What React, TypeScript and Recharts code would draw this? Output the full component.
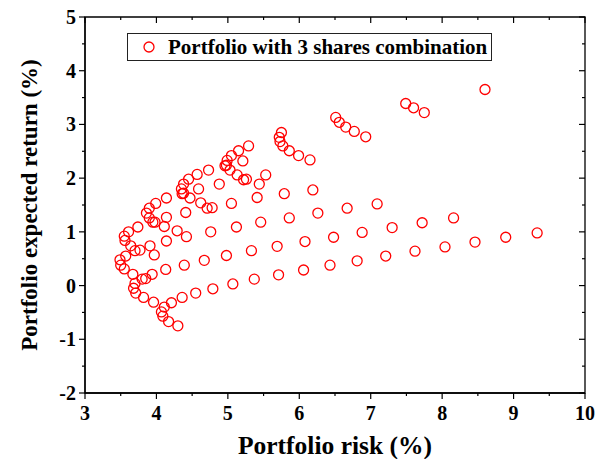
import React from 'react';
import { ScatterChart, Scatter, XAxis, YAxis, Legend, Label, ReferenceArea } from 'recharts';

// each row holds the portfolios with a fixed weight of the first share
// values are [risk %, expected return %]
const weightA0: [number, number][] = [
  [4.30, -0.75], [4.17, -0.67], [4.09, -0.57], [4.07, -0.49], [4.11, -0.40], [4.21, -0.32],
  [4.36, -0.22], [4.55, -0.14], [4.79, -0.06], [5.07, 0.03], [5.37, 0.12], [5.71, 0.20],
  [6.06, 0.29], [6.43, 0.38], [6.81, 0.46], [7.21, 0.55], [7.62, 0.64], [8.04, 0.72],
  [8.46, 0.81], [8.89, 0.90], [9.33, 0.98],
];
const weightA1: [number, number][] = [
  [3.96, -0.31], [3.82, -0.22], [3.71, -0.14], [3.68, -0.05], [3.70, 0.04], [3.80, 0.12],
  [3.94, 0.21], [4.13, 0.30], [4.39, 0.38], [4.67, 0.47], [4.98, 0.56], [5.33, 0.65],
  [5.69, 0.73], [6.08, 0.82], [6.48, 0.90], [6.88, 0.99], [7.30, 1.08], [7.72, 1.17],
  [8.16, 1.26],
];
const weightA2: [number, number][] = [
  [3.85, 0.13], [3.67, 0.21], [3.55, 0.31], [3.50, 0.38], [3.49, 0.48], [3.57, 0.55],
  [3.70, 0.65], [3.91, 0.74], [4.14, 0.83], [4.42, 0.91], [4.76, 1.00], [5.12, 1.09],
  [5.46, 1.18], [5.86, 1.26], [6.26, 1.35], [6.67, 1.44], [7.09, 1.52],
];
const weightA3: [number, number][] = [
  [3.97, 0.57], [3.77, 0.66], [3.64, 0.74], [3.56, 0.84], [3.55, 0.92], [3.61, 1.00],
  [3.74, 1.09], [3.95, 1.18], [4.14, 1.27], [4.41, 1.36], [4.71, 1.44], [5.05, 1.53],
  [5.41, 1.64], [5.79, 1.71], [6.19, 1.78],
];
const weightA4: [number, number][] = [
  [4.29, 1.02], [4.11, 1.10], [3.98, 1.18], [3.90, 1.26], [3.86, 1.35], [3.90, 1.44],
  [3.99, 1.53], [4.14, 1.63], [4.36, 1.71], [4.59, 1.80], [4.88, 1.89], [5.22, 1.97],
  [5.53, 2.06],
];
const weightA5: [number, number][] = [
  [4.78, 1.45], [4.62, 1.54], [4.47, 1.63], [4.38, 1.72], [4.35, 1.80], [4.38, 1.89],
  [4.45, 1.98], [4.57, 2.07], [4.73, 2.15], [4.96, 2.23], [5.21, 2.32],
];
const weightA6: [number, number][] = [
  [5.44, 1.89], [5.26, 1.98], [5.13, 2.06], [5.03, 2.15], [4.98, 2.24], [4.99, 2.33],
  [5.05, 2.42], [5.15, 2.51], [5.29, 2.60],
];
const weightA7: [number, number][] = [
  [6.15, 2.34], [5.99, 2.42], [5.86, 2.51], [5.77, 2.60], [5.73, 2.68], [5.72, 2.76],
  [5.75, 2.85],
];
const weightA8: [number, number][] = [
  [6.93, 2.77], [6.77, 2.87], [6.65, 2.95], [6.56, 3.04], [6.51, 3.13],
];
const weightA9: [number, number][] = [
  [7.75, 3.22], [7.60, 3.31], [7.49, 3.39],
];
const weightA10: [number, number][] = [
  [8.60, 3.65],
];

const riskTicks = [3, 3.5, 4, 4.5, 5, 5.5, 6, 6.5, 7, 7.5, 8, 8.5, 9, 9.5, 10];
const returnTicks = [-2, -1.5, -1, -0.5, 0, 0.5, 1, 1.5, 2, 2.5, 3, 3.5, 4, 4.5, 5];

const legendLabel = 'Portfolio with 3 shares combination';
const xTitle = 'Portfolio risk (%)';
const yTitle = 'Portfolio expected return (%)';

const portfolios = [
  weightA0, weightA1, weightA2, weightA3, weightA4, weightA5,
  weightA6, weightA7, weightA8, weightA9, weightA10,
].flat().map(([risk, ret]) => ({ risk, ret }));

const WIDTH = 605;
const HEIGHT = 459;
const MARGIN = { top: 17, right: 20, bottom: 0, left: 0 };
const X_AXIS_H = 66;
const Y_AXIS_W = 85;
const PLOT_W = WIDTH - MARGIN.left - MARGIN.right - Y_AXIS_W;
const PLOT_H = HEIGHT - MARGIN.top - MARGIN.bottom - X_AXIS_H;

const FONT = "'Liberation Serif', 'Times New Roman', serif";
const RED = '#ff0000';
const isMajor = (v: number) => Number.isInteger(v);

// bottom ticks point out, the mirrored ones on the top edge point in
const BottomTick = ({ x, y, payload }: any) => {
  const m = isMajor(payload.value);
  const len = m ? 6 : 3;
  const top = y - PLOT_H;
  return (
    <g>
      <line x1={x} y1={y} x2={x} y2={y + len} stroke="#000" strokeWidth={1.2} />
      <line x1={x} y1={top} x2={x} y2={top + len} stroke="#000" strokeWidth={1.2} />
      {m && (
        <text x={x} y={y + 27} textAnchor="middle" style={{ fontFamily: FONT, fontWeight: 700, fontSize: 20 }} fill="#000">
          {payload.value}
        </text>
      )}
    </g>
  );
};

const LeftTick = ({ x, y, payload }: any) => {
  const m = isMajor(payload.value);
  const len = m ? 6 : 3;
  const right = x + PLOT_W;
  return (
    <g>
      <line x1={x} y1={y} x2={x - len} y2={y} stroke="#000" strokeWidth={1.2} />
      <line x1={right} y1={y} x2={right - len} y2={y} stroke="#000" strokeWidth={1.2} />
      {m && (
        <text x={x - 9} y={y + 7} textAnchor="end" style={{ fontFamily: FONT, fontWeight: 700, fontSize: 20 }} fill="#000">
          {payload.value}
        </text>
      )}
    </g>
  );
};

const Ring = ({ cx, cy }: any) => (
  <circle cx={cx} cy={cy} r={5} fill="none" stroke={RED} strokeWidth={1.3} />
);

const XTitle = ({ viewBox }: any) => (
  <text
    x={viewBox.x + viewBox.width / 2}
    y={viewBox.y + 61}
    textAnchor="middle"
    style={{ fontFamily: FONT, fontWeight: 700, fontSize: 25.5 }}
    fill="#000"
  >
    {xTitle}
  </text>
);

const YTitle = ({ viewBox }: any) => {
  const cx = 37;
  const cy = viewBox.y + viewBox.height / 2;
  return (
    <text
      x={cx}
      y={cy}
      transform={`rotate(-90 ${cx} ${cy})`}
      textAnchor="middle"
      style={{ fontFamily: FONT, fontWeight: 700, fontSize: 23 }}
      fill="#000"
    >
      {yTitle}
    </text>
  );
};

const LegendBox = () => (
  <div
    style={{
      boxSizing: 'border-box',
      width: 365,
      height: 28,
      border: '1px solid #222',
      background: '#fff',
      display: 'flex',
      alignItems: 'center',
      fontFamily: FONT,
      fontWeight: 700,
      fontSize: 21,
      lineHeight: '26px',
      color: '#000',
      whiteSpace: 'nowrap',
    }}
  >
    <svg width={40} height={20} style={{ flex: 'none' }}>
      <circle cx={21} cy={10} r={5} fill="none" stroke={RED} strokeWidth={1.3} />
    </svg>
    <span>{legendLabel}</span>
  </div>
);

export default function App() {
  return (
    <div style={{ position: 'absolute', left: 0, top: 0, width: WIDTH, height: HEIGHT, background: '#fff' }}>
      <ScatterChart width={WIDTH} height={HEIGHT} margin={MARGIN}>
        {/* full frame around the plot */}
        <ReferenceArea
          x1={3}
          x2={10}
          y1={-2}
          y2={5}
          fill="none"
          fillOpacity={0}
          stroke="#000"
          strokeWidth={1.3}
          strokeOpacity={1}
          ifOverflow="visible"
        />
        <XAxis
          type="number"
          dataKey="risk"
          domain={[3, 10]}
          allowDataOverflow
          ticks={riskTicks}
          interval={0}
          height={X_AXIS_H}
          tickSize={0}
          tickMargin={0}
          tickLine={false}
          tick={<BottomTick />}
          axisLine={{ stroke: '#000', strokeWidth: 1.3 }}
        >
          <Label content={<XTitle />} />
        </XAxis>
        <YAxis
          type="number"
          dataKey="ret"
          domain={[-2, 5]}
          allowDataOverflow
          ticks={returnTicks}
          interval={0}
          width={Y_AXIS_W}
          tickSize={0}
          tickMargin={0}
          tickLine={false}
          tick={<LeftTick />}
          axisLine={{ stroke: '#000', strokeWidth: 1.3 }}
        >
          <Label content={<YTitle />} />
        </YAxis>
        <Legend
          layout="horizontal"
          verticalAlign="middle"
          align="center"
          content={<LegendBox />}
          wrapperStyle={{ position: 'absolute', left: 127, top: 33, width: 365, height: 28 }}
        />
        <Scatter
          name={legendLabel}
          data={portfolios}
          shape={<Ring />}
          isAnimationActive={false}
        />
      </ScatterChart>
    </div>
  );
}
